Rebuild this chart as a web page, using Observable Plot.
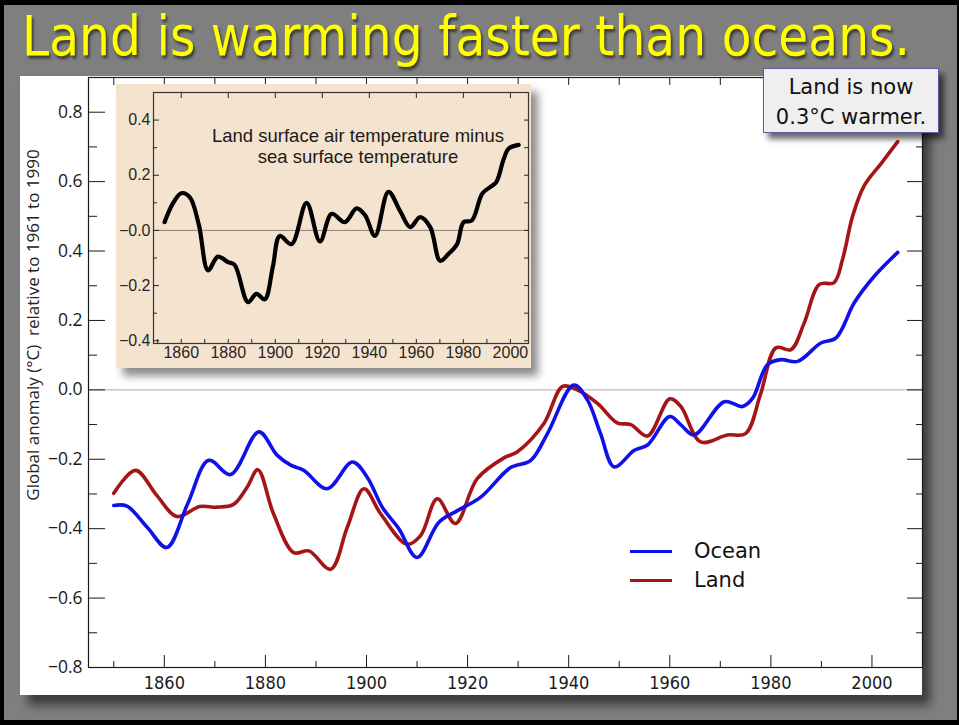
<!DOCTYPE html>
<html><head><meta charset="utf-8">
<script src="https://cdn.jsdelivr.net/npm/d3@7"></script>
<script src="https://cdn.jsdelivr.net/npm/@observablehq/plot@0.6"></script>
<style>
html,body{margin:0;padding:0;background:#000;}
#root{position:relative;width:959px;height:725px;overflow:hidden;background:#000;}
#bg{position:absolute;left:4px;top:5px;right:2px;bottom:5px;background:#7f7f7f;}
#title{position:absolute;left:22px;top:8px;font-family:"DejaVu Sans";font-size:56px;color:#ffff00;white-space:nowrap;line-height:1;transform-origin:0 0;text-shadow:2px 3px 3px rgba(0,0,0,0.55);}
#panel{position:absolute;left:20px;top:76px;width:902px;height:619px;background:#fff;box-shadow:8px 10px 10px rgba(0,0,0,0.55);}
#main{position:absolute;left:0;top:0;}
#inbox{position:absolute;left:116px;top:84px;width:415px;height:284px;background:#f4e3cf;box-shadow:7px 8px 8px rgba(0,0,0,0.45);}
#inset{position:absolute;left:116px;top:84px;}
#innote{position:absolute;left:183px;top:126px;width:350px;text-align:center;font-family:"Liberation Sans",Arial,sans-serif;font-size:18.5px;line-height:20.5px;color:#1a1a1a;}
#note{position:absolute;left:763px;top:68px;width:176px;height:65px;background:#efefef;border:1.5px solid #5a5aa6;box-shadow:5px 6px 6px rgba(0,0,0,0.6);font-family:"DejaVu Sans";font-size:21px;text-align:center;line-height:30px;color:#111;padding-top:3px;box-sizing:border-box;}
#ylab{position:absolute;left:32px;top:325px;transform:translate(-50%,-50%) rotate(-90deg);white-space:nowrap;font-family:"Open Sans",sans-serif;font-size:17px;color:#222;}
.legline{position:absolute;height:3px;width:42px;left:630px;}
.legtext{position:absolute;left:694px;font-family:"DejaVu Sans";font-size:21px;line-height:24px;color:#111;}
#main g[aria-label="y-axis tick label"]{font-family:"Open Sans","Noto Sans",sans-serif !important;font-size:17.5px !important;}
#main g[aria-label="x-axis tick label"]{font-family:"DejaVu Sans Condensed","DejaVu Sans",sans-serif !important;font-stretch:condensed;font-size:18px !important;}
#inset g[aria-label="y-axis tick label"],#inset g[aria-label="x-axis tick label"]{font-family:"Liberation Sans",Arial,sans-serif !important;font-size:16px !important;}
</style></head>
<body>
<div id="root">
  <div id="bg"></div>
  <div id="title">Land is warming faster than oceans.</div>
  <div id="panel"></div>
  <div id="plotholder"></div>
  <div id="inbox"></div>
  <div id="insetholder"></div>
  <div id="innote">Land surface air temperature minus<br>sea surface temperature</div>
  <div id="ylab">Global anomaly (°C)&nbsp; relative to 1961 to 1990</div>
  <div class="legline" style="top:549.5px;background:#1010e8"></div>
  <div class="legtext" style="top:539px">Ocean</div>
  <div class="legline" style="top:578.5px;background:#a51515"></div>
  <div class="legtext" style="top:568px">Land</div>
  <div id="note">Land is now<br>0.3°C warmer.</div>
</div>
<script>
// ---- data ----
const landYears = [1850, 1854.3, 1858.5, 1862.5, 1867, 1870.4, 1873.7, 1876.4, 1878.5, 1881.6, 1885.6, 1888.6, 1892.9, 1896.2, 1899.5, 1902.8, 1908, 1910.7, 1914, 1917.6, 1921.9, 1927.2, 1929.8, 1935.1, 1938.8, 1941.7, 1945.7, 1949.6, 1952.3, 1955.6, 1960, 1962.2, 1966.1, 1971.4, 1975, 1978, 1981, 1984, 1986.6, 1989.6, 1992.5, 1994.2, 1996.2, 1998.5, 2001.8, 2005.1];
const landValues = [-0.298, -0.232, -0.304, -0.365, -0.336, -0.338, -0.330, -0.280, -0.230, -0.357, -0.469, -0.464, -0.517, -0.396, -0.285, -0.357, -0.445, -0.420, -0.314, -0.385, -0.256, -0.196, -0.179, -0.097, 0.010, 0.0, -0.039, -0.095, -0.100, -0.133, -0.026, -0.048, -0.150, -0.130, -0.126, -0.010, 0.121, 0.116, 0.193, 0.304, 0.309, 0.377, 0.502, 0.589, 0.652, 0.715];

const oceanYears = [1850, 1852.6, 1856.6, 1860.5, 1864.6, 1868.8, 1873.1, 1878.7, 1882.3, 1885, 1887.6, 1892.2, 1897.2, 1900.1, 1903.2, 1906.4, 1910, 1914.3, 1918, 1922.6, 1928.5, 1932.5, 1935.8, 1941, 1943.7, 1946.3, 1949, 1953, 1955.6, 1960, 1962.2, 1964.8, 1970.8, 1974.4, 1976.4, 1979.3, 1982, 1985.3, 1989.9, 1992.9, 1996.5, 2000.5, 2005.1];
const oceanValues = [-0.333, -0.335, -0.396, -0.454, -0.329, -0.203, -0.244, -0.121, -0.188, -0.217, -0.232, -0.285, -0.208, -0.251, -0.340, -0.400, -0.483, -0.382, -0.348, -0.309, -0.224, -0.203, -0.126, 0.014, -0.029, -0.126, -0.222, -0.174, -0.159, -0.077, -0.101, -0.130, -0.034, -0.048, -0.024, 0.072, 0.087, 0.082, 0.135, 0.150, 0.251, 0.328, 0.396];

const diffYears = [1852.9, 1856.4, 1860, 1863.6, 1867.5, 1871.4, 1875.6, 1879.9, 1882.7, 1888.4, 1892, 1895.5, 1899, 1901.9, 1906.9, 1913.3, 1919, 1924, 1929.6, 1934.6, 1938.2, 1942.4, 1948.1, 1953.1, 1957.4, 1961.6, 1965.9, 1970.1, 1973.7, 1977.3, 1980.1, 1983.6, 1988, 1991.5, 1994, 1997.2, 1999.3, 2003.5];
const diffValues = [0.030, 0.097, 0.135, 0.121, 0.020, -0.145, -0.095, -0.115, -0.125, -0.260, -0.230, -0.250, -0.130, -0.020, -0.050, 0.100, -0.040, 0.060, 0.030, 0.080, 0.055, -0.020, 0.140, 0.070, 0.012, 0.048, 0.012, -0.110, -0.085, -0.050, 0.030, 0.036, 0.133, 0.158, 0.175, 0.260, 0.297, 0.310];

const yMajor = [-0.8, -0.6, -0.4, -0.2, 0, 0.2, 0.4, 0.6, 0.8];
const yMinor = [-0.7, -0.5, -0.3, -0.1, 0.1, 0.3, 0.5, 0.7];
const xMajor = [1860, 1880, 1900, 1920, 1940, 1960, 1980, 2000];
const xMinor = [1850, 1870, 1890, 1910, 1930, 1950, 1970, 1990];
const xTop = [1850, 1860, 1870, 1880, 1890, 1900, 1910, 1920, 1930, 1940, 1950, 1960, 1970, 1980, 1990, 2000];

const inYMajor = [-0.4, -0.2, 0, 0.2, 0.4];
const inYMinor = [-0.3, -0.1, 0.1, 0.3];
const inXMajor = [1860, 1880, 1900, 1920, 1940, 1960, 1980, 2000];
const inXMinor = [1850, 1870, 1890, 1910, 1930, 1950, 1970, 1990];

// ---- build ----
const land = landYears.map((year, i) => ({year, value: landValues[i]}));
const ocean = oceanYears.map((year, i) => ({year, value: oceanValues[i]}));
const diff = diffYears.map((year, i) => ({year, value: diffValues[i]}));
const fmt = d3.format(".1f");
const insetFmt = d => d === 0 ? "\u22120.0" : fmt(d);

const main = Plot.plot({
  width: 959, height: 725,
  marginLeft: 88, marginRight: 37, marginTop: 77, marginBottom: 58,
  x: {domain: [1845, 2010], label: null},
  y: {domain: [-0.8, 0.9], label: null},
  style: {background: "transparent", color: "#1a1a1a", overflow: "visible"},
  marks: [
    Plot.ruleY([0], {stroke: "#bdbdbd", strokeWidth: 1.2}),
    Plot.line(land, {x: "year", y: "value", stroke: "#a51515", strokeWidth: 3.6, curve: "catmull-rom"}),
    Plot.line(ocean, {x: "year", y: "value", stroke: "#1010e8", strokeWidth: 3.6, curve: "catmull-rom"}),
    Plot.frame({stroke: "#1a1a1a", strokeWidth: 1.2}),
    Plot.axisY({ticks: yMajor, anchor: "left", tickSize: -17, tickPadding: 23, tickFormat: fmt, label: null}),
    Plot.axisY({ticks: yMinor, anchor: "left", tickSize: -9, text: null, label: null}),
    Plot.axisY({ticks: yMajor, anchor: "right", tickSize: -16, text: null, label: null}),
    Plot.axisY({ticks: yMinor, anchor: "right", tickSize: -7, text: null, label: null}),
    Plot.axisX({ticks: xMajor, anchor: "bottom", tickSize: -12, text: null, label: null}),
    Plot.axisX({ticks: xMinor, anchor: "bottom", tickSize: -6, text: null, label: null}),
    Plot.axisX({ticks: xMajor, anchor: "bottom", tickSize: 0, tickPadding: 9, tickFormat: d => String(d), label: null}),
    Plot.axisX({ticks: xTop, anchor: "top", tickSize: -7, text: null, label: null})
  ]
});
main.id = "main";
document.getElementById("plotholder").replaceWith(main);

const inset = Plot.plot({
  width: 415, height: 284,
  marginLeft: 37, marginRight: 3, marginTop: 8, marginBottom: 25,
  x: {domain: [1848.2, 2007.7], label: null},
  y: {domain: [-0.41, 0.5], label: null},
  style: {background: "transparent", color: "#2a2520", overflow: "visible"},
  marks: [
    Plot.ruleY([0], {stroke: "#8c8078", strokeWidth: 1}),
    Plot.line(diff, {x: "year", y: "value", stroke: "#000", strokeWidth: 4.2, curve: "catmull-rom"}),
    Plot.frame({stroke: "#3a3330", strokeWidth: 1.2}),
    Plot.axisY({ticks: inYMajor, anchor: "left", tickSize: -6, tickPadding: 9, tickFormat: insetFmt, label: null}),
    Plot.axisY({ticks: inYMinor, anchor: "left", tickSize: -4, text: null, label: null}),
    Plot.axisY({ticks: inYMajor.concat(inYMinor), anchor: "right", tickSize: -5, text: null, label: null}),
    Plot.axisX({ticks: inXMajor, anchor: "bottom", tickSize: 0, tickPadding: 3, tickFormat: d => String(d), label: null}),
    Plot.axisX({ticks: inXMajor.concat(inXMinor), anchor: "bottom", tickSize: -4, text: null, label: null}),
    Plot.axisX({ticks: inXMajor, anchor: "top", tickSize: -5, text: null, label: null})
  ]
});
inset.id = "inset";
document.getElementById("insetholder").replaceWith(inset);

// fit title to its width in the picture
const t = document.getElementById("title");
const w = t.getBoundingClientRect().width;
t.style.transform = `scaleX(${888 / w})`;
</script>
</body></html>
